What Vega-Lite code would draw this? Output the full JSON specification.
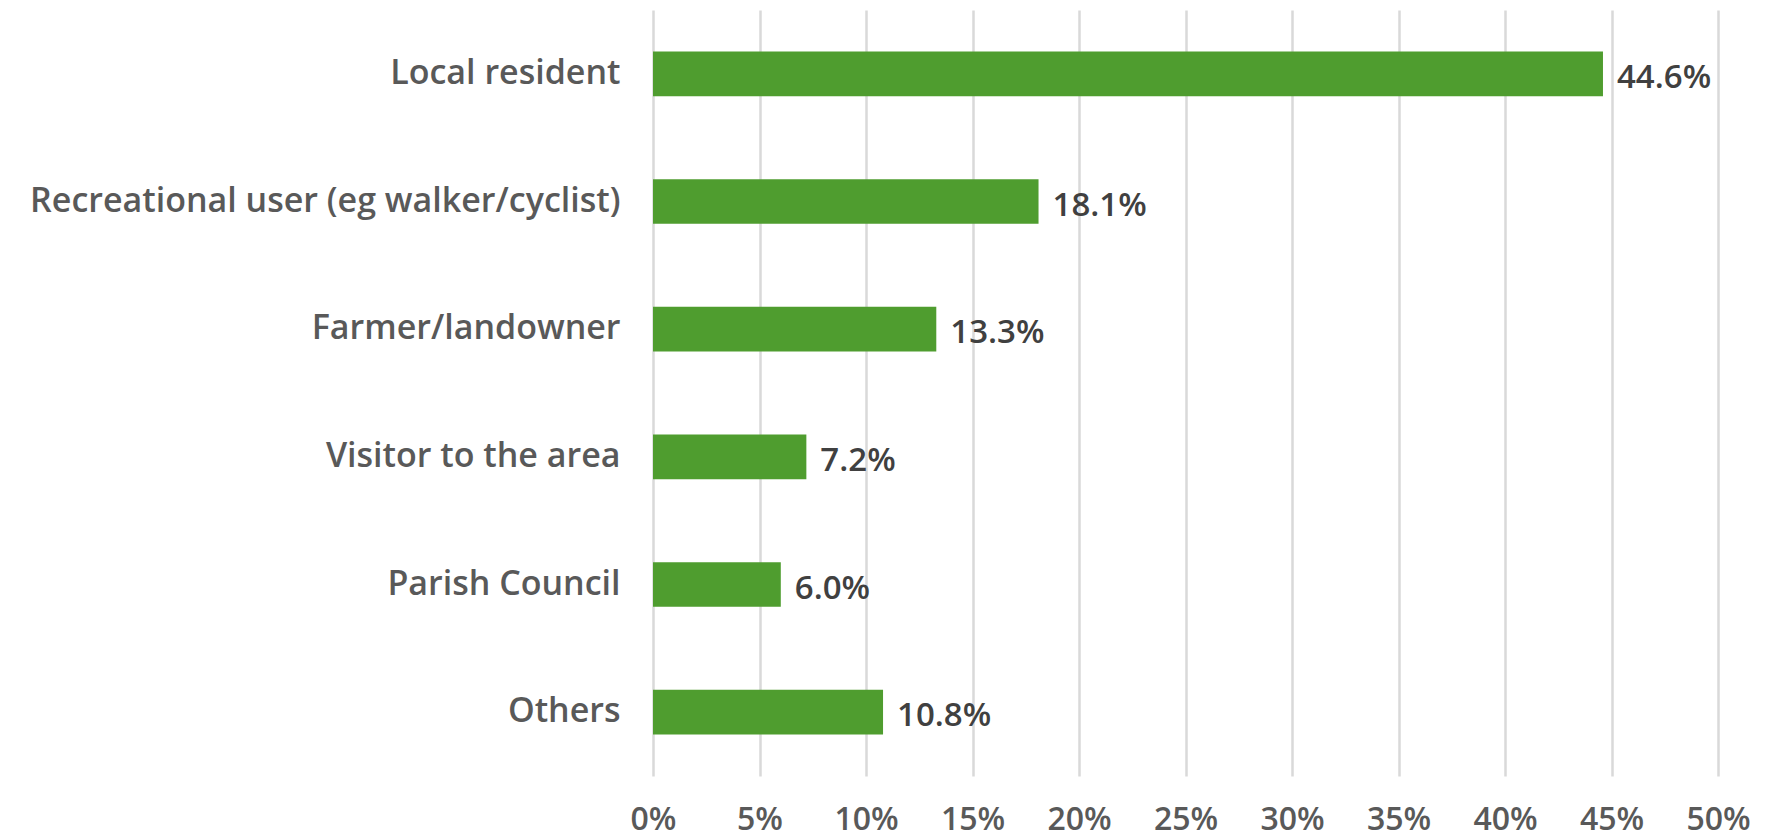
{
  "$schema": "https://vega.github.io/schema/vega-lite/v6.json",
  "autosize": {"type": "none"},
  "padding": {"left": 653, "top": 10, "right": 53, "bottom": 62},
  "width": 1065,
  "height": 766,
  "background": "white",
  "config": {
    "view": {"stroke": null},
    "font": "Open Sans"
  },
  "data": {
    "values": [
      {"category": "Local resident", "share": 0.446},
      {"category": "Recreational user (eg walker/cyclist)", "share": 0.181},
      {"category": "Farmer/landowner", "share": 0.133},
      {"category": "Visitor to the area", "share": 0.072},
      {"category": "Parish Council", "share": 0.060},
      {"category": "Others", "share": 0.108}
    ]
  },
  "encoding": {
    "y": {
      "field": "category",
      "type": "nominal",
      "sort": null,
      "scale": {"paddingInner": 0.65, "paddingOuter": 0.325},
      "axis": {
        "title": null,
        "domain": false,
        "ticks": false,
        "labelPadding": 33,
        "labelFontSize": 34,
        "labelFontWeight": 600,
        "labelColor": "#595959",
        "labelLimit": 700
      }
    },
    "x": {
      "field": "share",
      "type": "quantitative",
      "scale": {"domain": [0, 0.5], "nice": false},
      "axis": {
        "title": null,
        "domain": false,
        "ticks": false,
        "values": [0, 0.05, 0.1, 0.15, 0.2, 0.25, 0.3, 0.35, 0.4, 0.45, 0.5],
        "format": ".0%",
        "labelPadding": 28,
        "labelFontSize": 32,
        "labelFontWeight": 600,
        "labelColor": "#595959",
        "labelFlush": false,
        "grid": true,
        "gridColor": "#d9d9d9",
        "gridWidth": 2.5
      }
    }
  },
  "layer": [
    {
      "mark": {"type": "bar", "color": "#4f9d2f"}
    },
    {
      "mark": {"type": "text", "align": "left", "baseline": "middle", "dx": 14, "dy": 4, "fontSize": 33, "fontWeight": 600, "color": "#404040"},
      "encoding": {
        "text": {"field": "share", "type": "quantitative", "format": ".1%"}
      }
    }
  ]
}
